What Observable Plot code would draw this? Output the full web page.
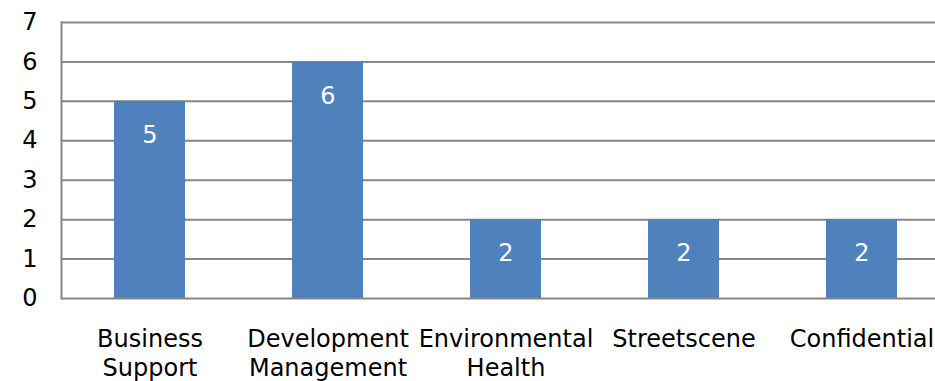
<!DOCTYPE html>
<html>
<head>
<meta charset="utf-8">
<script src="https://cdn.jsdelivr.net/npm/d3@7"></script>
<script src="https://cdn.jsdelivr.net/npm/@observablehq/plot@0.6"></script>
<style>
  html, body { margin: 0; padding: 0; background: #fff; }
  #chart { width: 935px; height: 381px; overflow: hidden; }
  #chart svg { max-width: none !important; }
</style>
</head>
<body>
<div id="chart"></div>
<script>
const categories = ["Business Support", "Development Management", "Environmental Health", "Streetscene", "Confidential"];
const tickLabels = ["Business\nSupport", "Development\nManagement", "Environmental\nHealth", "Streetscene", "Confidential"];
const values = [5, 6, 2, 2, 2];
const yTicks = [0, 1, 2, 3, 4, 5, 6, 7];

const data = categories.map((c, i) => ({category: c, value: values[i]}));

const chart = Plot.plot({
  width: 951,
  height: 381,
  marginLeft: 61,
  marginRight: 0,
  marginTop: 22,
  marginBottom: 83,
  style: {fontFamily: "DejaVu Sans", background: "white", color: "black", maxWidth: "none"},
  x: {domain: categories, paddingInner: 0.6, paddingOuter: 0.3, axis: null},
  y: {domain: [0, 7], axis: null},
  marks: [
    Plot.gridY(yTicks.filter(d => d > 0), {stroke: "#868686", strokeOpacity: 1, strokeWidth: 2}),
    Plot.barY(data, {x: "category", y: "value", fill: "#4F81BD"}),
    Plot.ruleY([0], {stroke: "#868686", strokeWidth: 2}),
    Plot.frame({anchor: "left", stroke: "#868686", strokeWidth: 2}),
    Plot.axisY({ticks: yTicks, tickSize: 0, tickPadding: 24, fontSize: 24, fill: "black",
      label: null, tickFormat: d => String(d)}),
    Plot.axisX({tickSize: 0, tickPadding: 28, fontSize: 24, lineHeight: 1.2, fill: "black",
      label: null, tickFormat: d => tickLabels[categories.indexOf(d)]}),
    Plot.text(data, {x: "category", y: "value", text: d => String(d.value), dy: 34, fill: "white", fontSize: 24})
  ]
});
document.getElementById("chart").appendChild(chart);
</script>
</body>
</html>
